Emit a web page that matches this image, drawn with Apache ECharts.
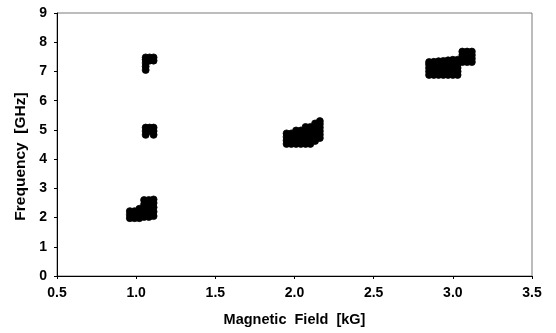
<!DOCTYPE html>
<html><head><meta charset="utf-8">
<script src="https://cdn.jsdelivr.net/npm/echarts@6/dist/echarts.min.js"></script>
<style>html,body{margin:0;padding:0;background:#fff}#c{width:556px;height:333px}</style>
</head><body><div id="c"></div>
<script>
var xTicks = [0.5, 1.0, 1.5, 2.0, 2.5, 3.0, 3.5];
var yTicks = [0, 1, 2, 3, 4, 5, 6, 7, 8, 9];
// measured points [field kG, frequency GHz]
var clusterA = [
  [0.96,1.98],[0.96,2.1],[0.96,2.22],
  [0.99,1.98],[0.99,2.1],[0.99,2.22],
  [1.02,1.98],[1.02,2.1],[1.02,2.22],[1.02,2.3],
  [1.05,2.02],[1.05,2.15],[1.05,2.3],[1.05,2.45],[1.05,2.6],
  [1.08,2.02],[1.08,2.15],[1.08,2.3],[1.08,2.45],[1.08,2.6],
  [1.11,2.05],[1.11,2.2],[1.11,2.35],[1.11,2.5],[1.11,2.62]
];
var clusterB = [
  [1.06,4.83],[1.06,4.96],[1.06,5.08],
  [1.085,4.96],[1.085,5.08],
  [1.11,4.83],[1.11,4.96],[1.11,5.08]
];
var clusterC = [
  [1.06,7.05],[1.06,7.17],[1.06,7.29],[1.06,7.4],[1.06,7.48],
  [1.085,7.37],[1.085,7.48],
  [1.11,7.37],[1.11,7.48]
];
var clusterD = [
  [1.95,4.52],[1.95,4.64],[1.95,4.76],[1.95,4.88],
  [1.98,4.52],[1.98,4.64],[1.98,4.76],[1.98,4.88],
  [2.01,4.52],[2.01,4.64],[2.01,4.76],[2.01,4.88],[2.01,4.98],
  [2.04,4.52],[2.04,4.64],[2.04,4.76],[2.04,4.88],[2.04,4.98],
  [2.07,4.52],[2.07,4.64],[2.07,4.76],[2.07,4.88],[2.07,5.0],[2.07,5.1],
  [2.10,4.52],[2.10,4.64],[2.10,4.76],[2.10,4.88],[2.10,5.0],[2.10,5.1],
  [2.13,4.62],[2.13,4.74],[2.13,4.86],[2.13,4.98],[2.13,5.1],[2.13,5.22],
  [2.16,4.72],[2.16,4.84],[2.16,4.96],[2.16,5.08],[2.16,5.2],[2.16,5.3]
];
var clusterE = [
  [2.85,6.88],[2.85,7.0],[2.85,7.12],[2.85,7.24],[2.85,7.32],
  [2.88,6.88],[2.88,7.0],[2.88,7.12],[2.88,7.24],[2.88,7.33],
  [2.91,6.88],[2.91,7.0],[2.91,7.12],[2.91,7.24],[2.91,7.35],
  [2.94,6.88],[2.94,7.0],[2.94,7.12],[2.94,7.24],[2.94,7.36],
  [2.97,6.88],[2.97,7.0],[2.97,7.12],[2.97,7.24],[2.97,7.38],
  [3.00,6.88],[3.00,7.0],[3.00,7.12],[3.00,7.24],[3.00,7.4],
  [3.03,6.88],[3.03,7.0],[3.03,7.12],[3.03,7.24],[3.03,7.4],
  [3.06,7.32],[3.06,7.44],[3.06,7.56],[3.06,7.68],
  [3.09,7.32],[3.09,7.44],[3.09,7.56],[3.09,7.68],
  [3.12,7.32],[3.12,7.44],[3.12,7.56],[3.12,7.68]
];
var allPoints = clusterA.concat(clusterB, clusterC, clusterD, clusterE);

var chart = echarts.init(document.getElementById('c'), null, {renderer: 'canvas'});
var font = 'Liberation Sans, Arial, sans-serif';
chart.setOption({
  animation: false,
  grid: {left: 57, right: 24, top: 13, bottom: 57, show: true, borderColor: '#7a7a7a', borderWidth: 1},
  xAxis: {
    type: 'value', min: xTicks[0], max: xTicks[xTicks.length - 1], interval: 0.5,
    name: 'Magnetic  Field  [kG]', nameLocation: 'middle', nameGap: 36,
    nameTextStyle: {fontFamily: font, fontWeight: 'bold', fontSize: 14.5, color: '#000'},
    axisLine: {show: true, lineStyle: {color: '#000', width: 1}},
    axisTick: {show: true, length: 3, lineStyle: {color: '#000'}},
    axisLabel: {fontFamily: font, fontWeight: 'bold', fontSize: 14, color: '#000', margin: 10,
      formatter: function (v) { return v.toFixed(1); }},
    splitLine: {show: false}
  },
  yAxis: {
    type: 'value', min: yTicks[0], max: yTicks[yTicks.length - 1], interval: 1,
    name: 'Frequency  [GHz]', nameLocation: 'middle', nameGap: 28,
    nameTextStyle: {fontFamily: font, fontWeight: 'bold', fontSize: 15.5, color: '#000', padding: [0, 24, 0, 0]},
    axisLine: {show: true, lineStyle: {color: '#000', width: 1}},
    axisTick: {show: true, length: 3, lineStyle: {color: '#000'}},
    axisLabel: {fontFamily: font, fontWeight: 'bold', fontSize: 14, color: '#000', margin: 10},
    splitLine: {show: false}
  },
  series: [{
    type: 'scatter',
    data: allPoints,
    symbol: 'circle',
    symbolSize: 7,
    itemStyle: {color: '#000', borderColor: '#000', borderWidth: 0.8, opacity: 1}
  }]
});
</script></body></html>
